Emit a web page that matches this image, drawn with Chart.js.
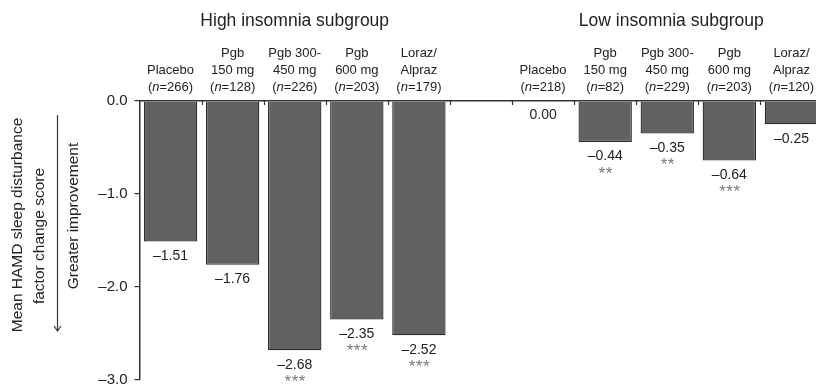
<!DOCTYPE html>
<html><head><meta charset="utf-8">
<script src="https://cdn.jsdelivr.net/npm/chart.js@4"></script>
<style>
html,body{margin:0;padding:0;background:#fff;overflow:hidden;width:816px;height:391px}
#wrap{position:absolute;left:0;top:0;width:826px;height:391px}
</style></head><body><div id="wrap"><canvas id="c" width="826" height="391"></canvas></div>
<script>
// Subgroup headings and the category slots they span (slot 5 is an empty spacer)
const groupTitles = ['High insomnia subgroup', 'Low insomnia subgroup'];
const groupFirstSlot = [0, 6];
const groupLastSlot = [4, 10];

// Treatment labels (two lines) and sample sizes per slot
const treatLine1 = ['', 'Pgb', 'Pgb 300-', 'Pgb', 'Loraz/', '', '', 'Pgb', 'Pgb 300-', 'Pgb', 'Loraz/'];
const treatLine2 = ['Placebo', '150 mg', '450 mg', '600 mg', 'Alpraz', '', 'Placebo', '150 mg', '450 mg', '600 mg', 'Alpraz'];
const sampleSizes = [266, 128, 226, 203, 179, null, 218, 82, 229, 203, 120];

// Mean change in HAMD sleep disturbance factor score
const changeScores = [-1.51, -1.76, -2.68, -2.35, -2.52, null, 0.00, -0.44, -0.35, -0.64, -0.25];
const significance = ['', '', '***', '***', '***', '', '', '**', '**', '***', ''];

// Value axis
const yMin = -3;
const yMax = 0;
const yStep = 1;

const FONT = "'Liberation Sans', Arial, sans-serif";
const INK = '#222';

const fmt = (v, d) => (v < 0 ? '\u2013' : '') + Math.abs(v).toFixed(d);

const annotate = {
  id: 'annotate',
  afterDraw(chart) {
    const ctx = chart.ctx;
    const xs = chart.scales.x;
    const ys = chart.scales.y;
    const area = chart.chartArea;
    const meta = chart.getDatasetMeta(0);
    const canvasRight = 815;
    ctx.save();
    ctx.fillStyle = INK;
    ctx.strokeStyle = '#333';

    // boundary ticks hanging below the zero line
    ctx.lineWidth = 1.2;
    for (let k = 0; k < treatLine2.length - 1; k++) {
      const bx = (xs.getPixelForValue(k) + xs.getPixelForValue(k + 1)) / 2;
      ctx.beginPath();
      ctx.moveTo(Math.round(bx) + 0.5, area.top);
      ctx.lineTo(Math.round(bx) + 0.5, area.top + 4);
      ctx.stroke();
    }

    // subgroup headings
    ctx.font = '17.5px ' + FONT;
    ctx.textAlign = 'center';
    ctx.textBaseline = 'alphabetic';
    groupTitles.forEach((t, g) => {
      const cx = (xs.getPixelForValue(groupFirstSlot[g]) + xs.getPixelForValue(groupLastSlot[g])) / 2;
      ctx.fillText(t, cx + g * 4, 26);
    });

    // category labels
    const catSize = 13;
    treatLine2.forEach((l2, i) => {
      if (!l2) return;
      let cx = xs.getPixelForValue(i);
      ctx.font = catSize + 'px ' + FONT;
      const nTail = '=' + sampleSizes[i] + ')';
      const wOpen = ctx.measureText('(').width;
      const wTail = ctx.measureText(nTail).width;
      ctx.font = 'italic ' + catSize + 'px ' + FONT;
      const wN = ctx.measureText('n').width;
      const wTotal = wOpen + wN + wTail;
      cx = Math.min(cx, canvasRight - wTotal / 2);
      ctx.font = catSize + 'px ' + FONT;
      ctx.textAlign = 'center';
      if (treatLine1[i]) ctx.fillText(treatLine1[i], cx, 57);
      ctx.fillText(l2, cx, 74);
      let x0 = cx - wTotal / 2;
      ctx.textAlign = 'left';
      ctx.fillText('(', x0, 91);
      ctx.font = 'italic ' + catSize + 'px ' + FONT;
      ctx.fillText('n', x0 + wOpen, 91);
      ctx.font = catSize + 'px ' + FONT;
      ctx.fillText(nTail, x0 + wOpen + wN, 91);
    });

    // value labels and significance stars under each bar
    ctx.textAlign = 'center';
    ctx.textBaseline = 'middle';
    changeScores.forEach((v, i) => {
      if (v === null) return;
      const bar = meta.data[i];
      const yb = ys.getPixelForValue(v);
      ctx.font = '14px ' + FONT;
      ctx.fillStyle = INK;
      ctx.fillText(fmt(v, 2), bar.x, yb + 14.5);
      if (significance[i]) {
        ctx.font = '17px ' + FONT;
        ctx.fillStyle = '#7a7a7a';
        ctx.letterSpacing = '0.5px';
        ctx.fillText(significance[i], bar.x + 0.5, yb + 32);
        ctx.letterSpacing = '0px';
      }
    });

    // y-axis title and direction arrow
    ctx.fillStyle = INK;
    ctx.font = '15.5px ' + FONT;
    const vText = (t, x, y) => {
      ctx.save();
      ctx.translate(x, y);
      ctx.rotate(-Math.PI / 2);
      ctx.textAlign = 'center';
      ctx.textBaseline = 'middle';
      ctx.fillText(t, 0, 0);
      ctx.restore();
    };
    vText('Mean HAMD sleep disturbance', 18, 225);
    vText('factor change score', 40, 236);
    vText('Greater improvement', 74, 216);

    ctx.strokeStyle = '#333';
    ctx.lineWidth = 1.2;
    ctx.beginPath();
    ctx.moveTo(57.5, 115);
    ctx.lineTo(57.5, 331);
    ctx.stroke();
    ctx.beginPath();
    ctx.moveTo(54, 326);
    ctx.lineTo(57.5, 331);
    ctx.lineTo(61, 326);
    ctx.stroke();
    ctx.restore();
  }
};

new Chart(document.getElementById('c'), {
  type: 'bar',
  data: {
    labels: treatLine2,
    datasets: [{
      data: changeScores,
      backgroundColor: '#606163',
      borderColor: '#2b2b2b',
      borderWidth: (c) => (c.raw === 0 ? 0 : 1.3),
      barPercentage: 0.86,
      categoryPercentage: 1.0
    }]
  },
  options: {
    responsive: false,
    animation: false,
    events: [],
    layout: { padding: { top: 101, bottom: 11, left: 0, right: 3.5 } },
    plugins: { legend: { display: false }, tooltip: { enabled: false } },
    scales: {
      x: {
        position: 'top',
        ticks: { display: false },
        grid: { display: true, drawOnChartArea: false, drawTicks: false },
        border: { display: true, color: '#333', width: 1.5 },
        afterFit: (s) => { s.height = 0; }
      },
      y: {
        min: yMin,
        max: yMax,
        ticks: {
          stepSize: yStep,
          color: INK,
          padding: 7,
          font: { family: FONT, size: 15 },
          callback: (v) => fmt(v, 1)
        },
        grid: { drawOnChartArea: false, drawTicks: true, tickLength: 5, color: '#333', lineWidth: 1.2 },
        border: { display: true, color: '#333', width: 1.5 },
        afterFit: (s) => { s.width = 139.5; s.paddingTop = 0; s.paddingBottom = 0; }
      }
    }
  },
  plugins: [annotate]
});
</script></body></html>
